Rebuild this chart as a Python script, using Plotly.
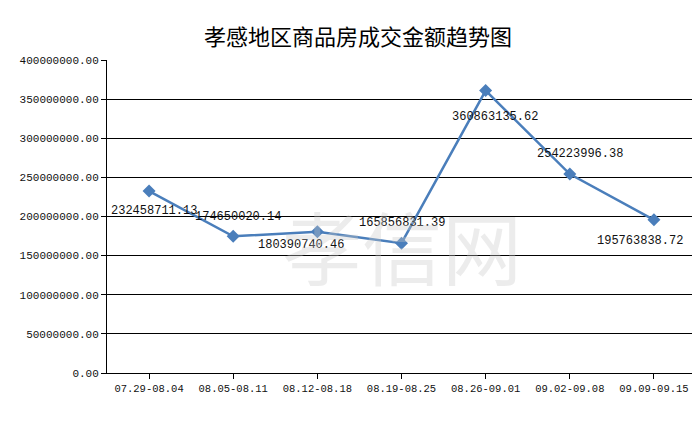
import plotly.graph_objects as go

weeks = ["07.29-08.04", "08.05-08.11", "08.12-08.18", "08.19-08.25",
         "08.26-09.01", "09.02-09.08", "09.09-09.15"]
amounts = [232458711.13, 174650020.14, 180390740.46, 165856831.39,
           360863135.62, 254223996.38, 195763838.72]
label_dx = [5, 5, -16, 0, 9, 10, -14]
label_dy = [20, -19, 13, -20, 26, -20, 21]

fig = go.Figure()
fig.add_trace(go.Scatter(x=weeks, y=amounts, mode="lines+markers",
                         line=dict(color="#4a7ebb", width=2.5),
                         marker=dict(symbol="diamond", size=10, color="#4a7ebb")))

for w, a, dx, dy in zip(weeks, amounts, label_dx, label_dy):
    fig.add_annotation(x=w, y=a, text="%.2f" % a, showarrow=False,
                       xshift=dx, yshift=-dy,
                       font=dict(family="Liberation Mono", size=12, color="#111"))

fig.add_annotation(x=0.5, y=0.22, xref="paper", yref="paper", text="孝信网",
                   showarrow=False,
                   font=dict(family="Noto Sans CJK SC", size=80, color="rgba(200,200,200,0.35)"))

fig.update_layout(
    width=700, height=423,
    margin=dict(l=99, r=12, t=52, b=58),
    paper_bgcolor="white", plot_bgcolor="white",
    showlegend=False,
    title=dict(text="孝感地区商品房成交金额趋势图", x=0.5, y=0.95, xanchor="center",
               yref="container",
               font=dict(family="Noto Sans CJK SC", size=22, color="black")),
)
fig.update_xaxes(range=[-0.5, 6.5], showline=True, linecolor="black", ticks="outside",
                 ticklen=5, tickcolor="black", showgrid=False,
                 tickfont=dict(family="Liberation Mono", size=10.5, color="#111"))
fig.update_yaxes(range=[0, 400000000], dtick=50000000, tickformat=".2f",
                 showline=True, linecolor="black", ticks="outside", ticklen=5,
                 tickcolor="black", gridcolor="black", gridwidth=1,
                 tickfont=dict(family="Liberation Mono", size=11, color="#111"))

fig.write_html("out.html")
